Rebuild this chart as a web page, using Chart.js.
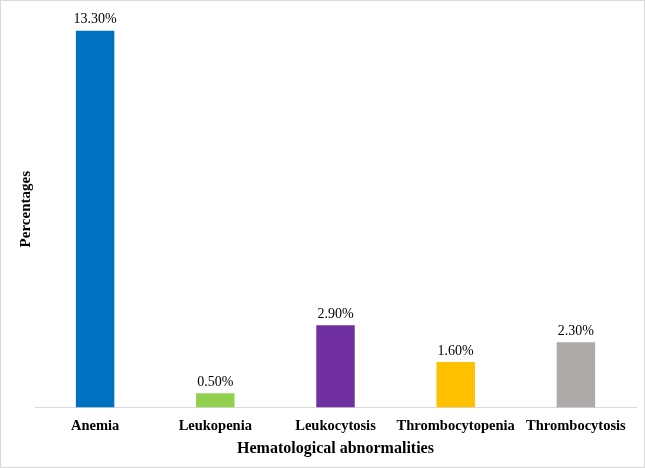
<!DOCTYPE html>
<html lang="en">
<head>
  <meta charset="UTF-8">
  <title>Hematological abnormalities</title>
  <script src="https://cdn.jsdelivr.net/npm/chart.js"></script>
  <style>
    body { margin: 0; background: #fff; }
    .box {
      position: absolute; left: 0; top: 0;
      width: 643px; height: 466px;
      border: 1px solid #d9d9d9;
    }
  </style>
</head>
<body>
  <div class="box"><canvas id="grafico" width="643" height="466"></canvas></div>
  <script>
    const categorias = ["Anemia", "Leukopenia", "Leukocytosis", "Thrombocytopenia", "Thrombocytosis"];
    const valores = [13.3, 0.5, 2.9, 1.6, 2.3];
    const cores = ["#0070C0", "#92D050", "#7030A0", "#FFC000", "#AEAAAA"];

    const serif = "'Liberation Serif', 'Times New Roman', serif";

    // rótulos acima das barras
    const rotulos = {
      id: "rotulos",
      afterDatasetsDraw(chart) {
        const ctx = chart.ctx;
        const meta = chart.getDatasetMeta(0);
        ctx.save();
        ctx.font = "14px " + serif;
        ctx.fillStyle = "#000";
        ctx.textAlign = "center";
        ctx.textBaseline = "bottom";
        meta.data.forEach((bar, i) => {
          ctx.fillText(valores[i].toFixed(2) + "%", bar.x, bar.y - 4);
        });
        ctx.restore();
      }
    };

    new Chart(document.getElementById("grafico"), {
      type: "bar",
      data: {
        labels: categorias,
        datasets: [{
          data: valores,
          backgroundColor: cores,
          barPercentage: 0.4,
          categoryPercentage: 0.8
        }]
      },
      options: {
        responsive: false,
        animation: false,
        layout: { padding: { top: 10, right: 8, left: 16, bottom: 9 } },
        plugins: { legend: { display: false }, tooltip: { enabled: false } },
        scales: {
          x: {
            grid: { display: false },
            border: { color: "#d9d9d9" },
            ticks: { color: "#000", font: { family: serif, size: 14.5, weight: "bold" }, padding: 2,
                     maxRotation: 0, minRotation: 0, autoSkip: false },
            title: { display: true, text: "Hematological abnormalities", color: "#000",
                     font: { family: serif, size: 16, weight: "bold" }, padding: { top: 2, bottom: 0 } }
          },
          y: {
            min: 0, max: 14,
            grid: { display: false, drawTicks: false },
            border: { display: false },
            ticks: { display: false },
            title: { display: true, text: "Percentages", color: "#000",
                     font: { family: serif, size: 15, weight: "bold" }, padding: 0 }
          }
        }
      },
      plugins: [rotulos]
    });
  </script>
</body>
</html>
